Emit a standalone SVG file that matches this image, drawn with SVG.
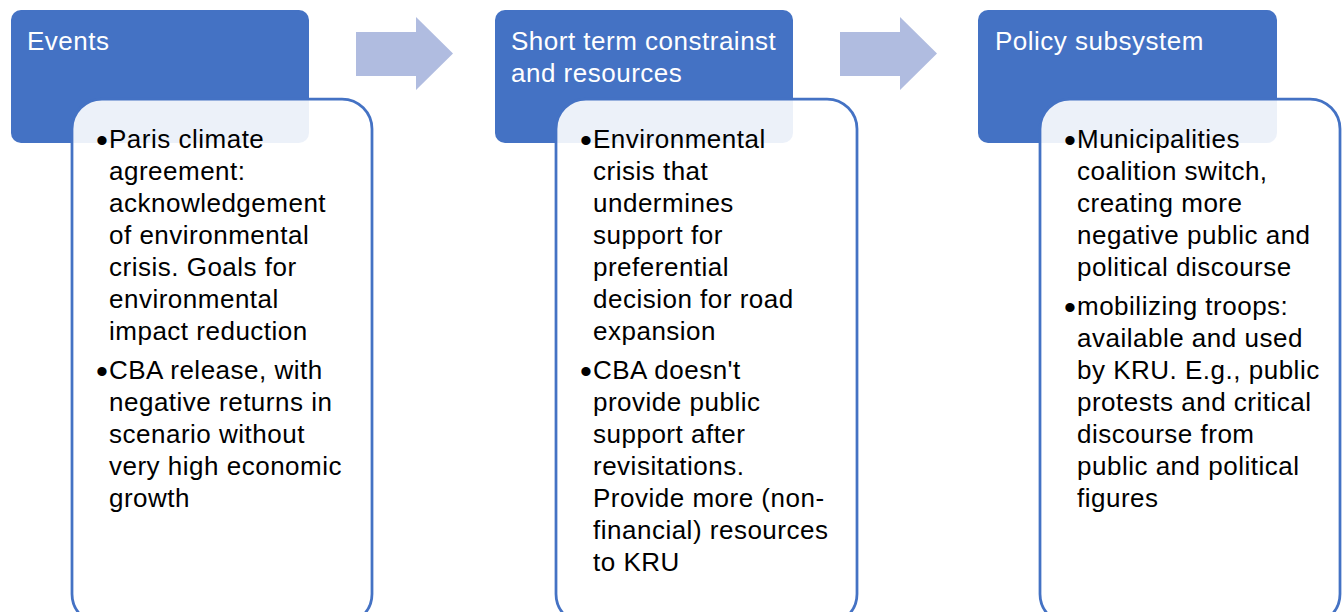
<svg xmlns="http://www.w3.org/2000/svg" width="1344" height="612" viewBox="0 0 1344 612">
<style>
.hdr{fill:#4472C4}
.card{fill:#FFFFFF;fill-opacity:0.9;stroke:#4472C4;stroke-width:2.75}
.ht{font-family:"Liberation Sans",Arial,sans-serif;font-size:26px;fill:#FFFFFF;letter-spacing:0.5px}
.bt{font-family:"Liberation Sans",Arial,sans-serif;font-size:26px;fill:#000000;letter-spacing:0.5px}
.bu{font-family:"Liberation Sans",Arial,sans-serif;font-size:34px;fill:#000000}
.arr{fill:#B0BCE0}
</style>
<rect width="1344" height="612" fill="#FFFFFF"/>
<g id="connectors">
<polygon class="arr" points="356,32 416,32 416,17 453,53.5 416,90 416,76 356,76"/>
<polygon class="arr" points="840,32 900,32 900,17 937,53.5 900,90 900,76 840,76"/>
</g>
<g id="node-events">
<rect class="hdr" x="11" y="10" width="298" height="133" rx="10"/>
<text class="ht" x="27" y="50">Events</text>
<rect class="card" x="72" y="99" width="300" height="525" rx="30"/>
<text class="bu" x="96" y="152">•</text>
<text class="bt" x="109" y="148">Paris climate</text>
<text class="bt" x="109" y="180">agreement:</text>
<text class="bt" x="109" y="212">acknowledgement</text>
<text class="bt" x="109" y="244">of environmental</text>
<text class="bt" x="109" y="276">crisis. Goals for</text>
<text class="bt" x="109" y="308">environmental</text>
<text class="bt" x="109" y="340">impact reduction</text>
<text class="bu" x="96" y="383">•</text>
<text class="bt" x="109" y="379">CBA release, with</text>
<text class="bt" x="109" y="411">negative returns in</text>
<text class="bt" x="109" y="443">scenario without</text>
<text class="bt" x="109" y="475">very high economic</text>
<text class="bt" x="109" y="507">growth</text>
</g>
<g id="node-short-term">
<rect class="hdr" x="495" y="10" width="298" height="133" rx="10"/>
<text class="ht" x="511" y="50">Short term constrainst</text>
<text class="ht" x="511" y="82">and resources</text>
<rect class="card" x="556" y="99" width="301" height="525" rx="30"/>
<text class="bu" x="580" y="152">•</text>
<text class="bt" x="593" y="148">Environmental</text>
<text class="bt" x="593" y="180">crisis that</text>
<text class="bt" x="593" y="212">undermines</text>
<text class="bt" x="593" y="244">support for</text>
<text class="bt" x="593" y="276">preferential</text>
<text class="bt" x="593" y="308">decision for road</text>
<text class="bt" x="593" y="340">expansion</text>
<text class="bu" x="580" y="383">•</text>
<text class="bt" x="593" y="379">CBA doesn't</text>
<text class="bt" x="593" y="411">provide public</text>
<text class="bt" x="593" y="443">support after</text>
<text class="bt" x="593" y="475">revisitations.</text>
<text class="bt" x="593" y="507">Provide more (non-</text>
<text class="bt" x="593" y="539">financial) resources</text>
<text class="bt" x="593" y="571">to KRU</text>
</g>
<g id="node-policy">
<rect class="hdr" x="978" y="10" width="299" height="133" rx="10"/>
<text class="ht" x="995" y="50">Policy subsystem</text>
<rect class="card" x="1040" y="99" width="300" height="525" rx="30"/>
<text class="bu" x="1064" y="152">•</text>
<text class="bt" x="1077" y="148">Municipalities</text>
<text class="bt" x="1077" y="180">coalition switch,</text>
<text class="bt" x="1077" y="212">creating more</text>
<text class="bt" x="1077" y="244">negative public and</text>
<text class="bt" x="1077" y="276">political discourse</text>
<text class="bu" x="1064" y="319">•</text>
<text class="bt" x="1077" y="315">mobilizing troops:</text>
<text class="bt" x="1077" y="347">available and used</text>
<text class="bt" x="1077" y="379">by KRU. E.g., public</text>
<text class="bt" x="1077" y="411">protests and critical</text>
<text class="bt" x="1077" y="443">discourse from</text>
<text class="bt" x="1077" y="475">public and political</text>
<text class="bt" x="1077" y="507">figures</text>
</g>
</svg>
